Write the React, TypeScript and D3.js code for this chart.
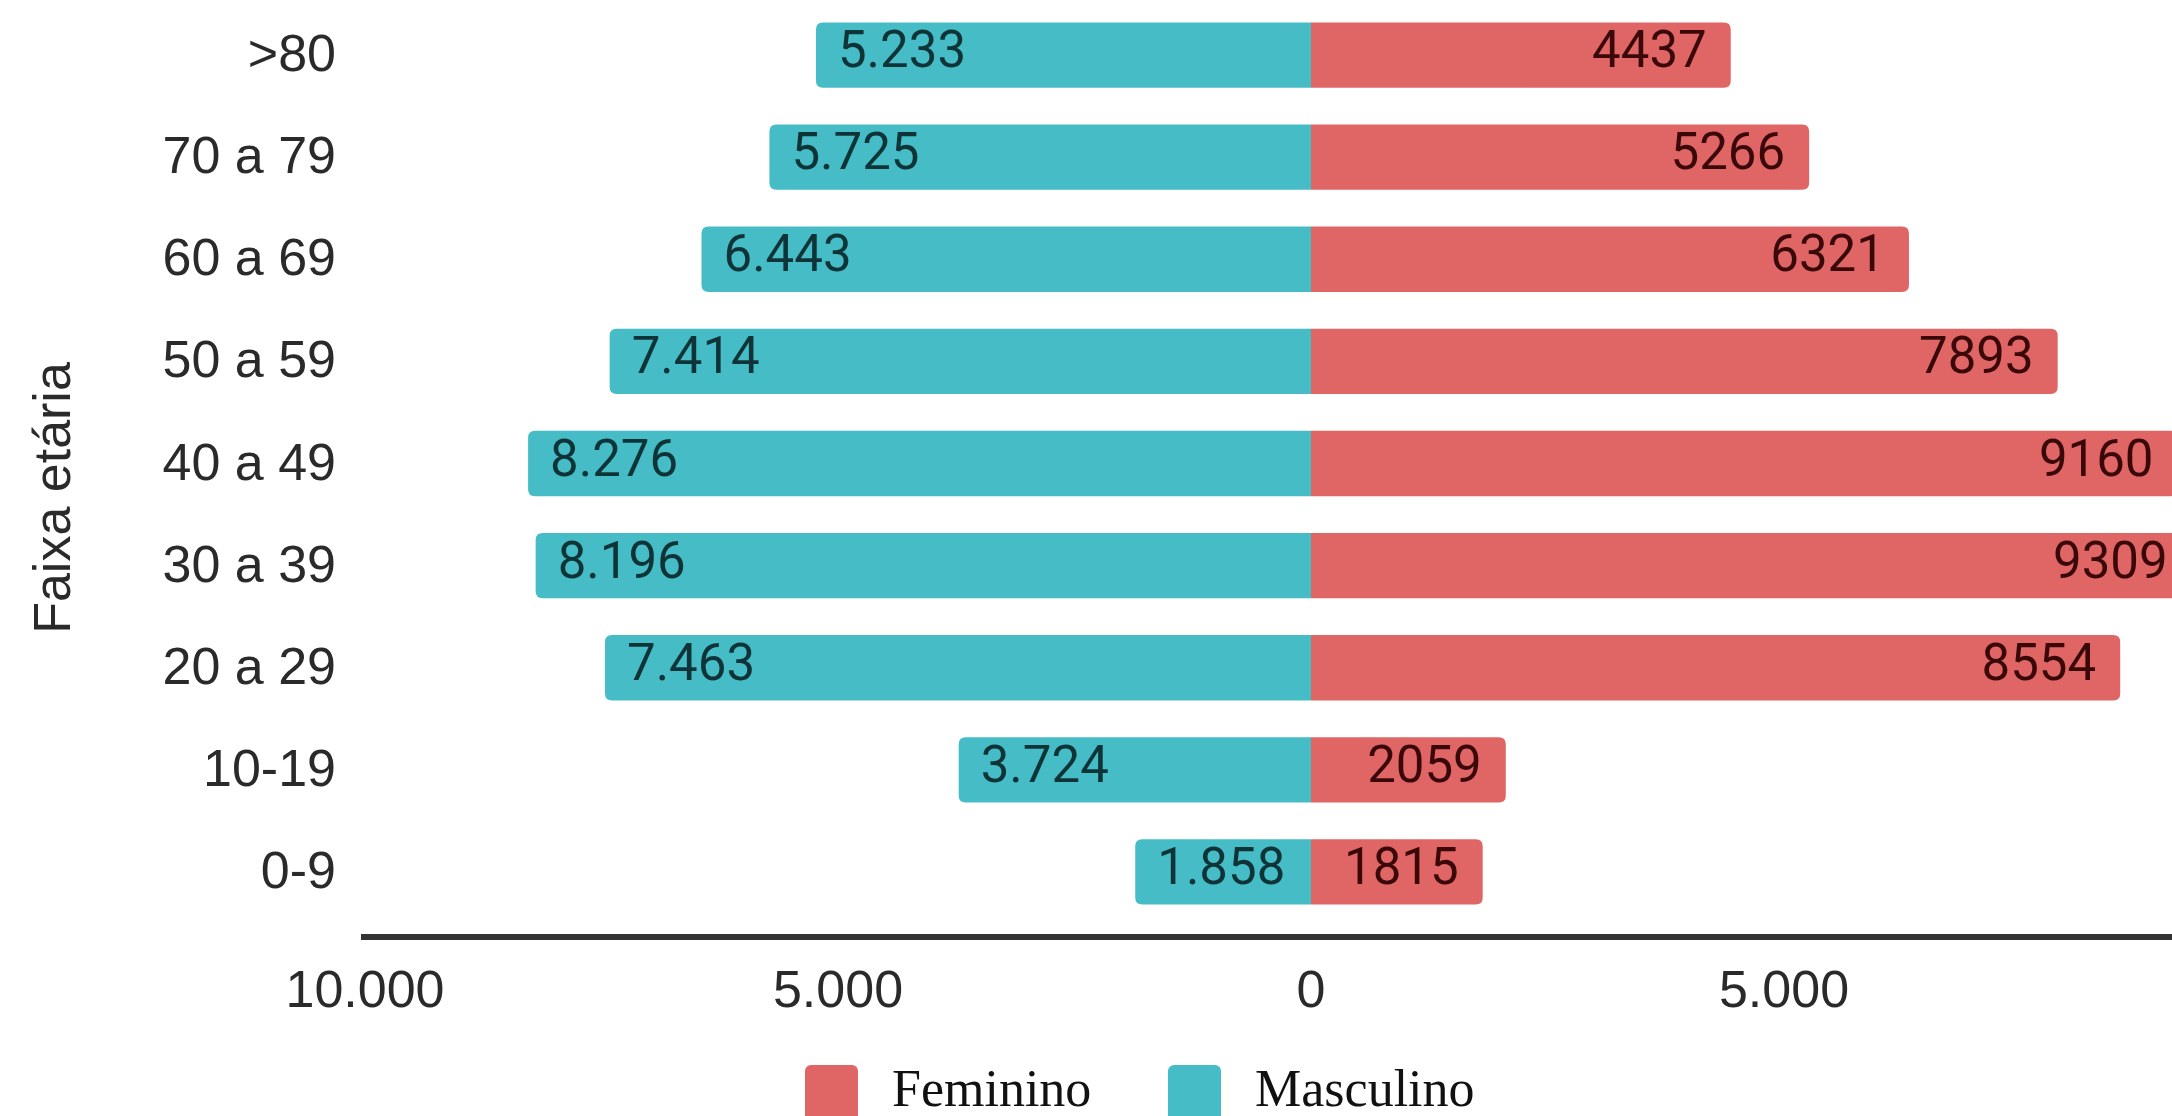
import React from "react";
import * as d3 from "d3";

const ageGroups = [">80", "70 a 79", "60 a 69", "50 a 59", "40 a 49", "30 a 39", "20 a 29", "10-19", "0-9"];
const masculino = [5233, 5725, 6443, 7414, 8276, 8196, 7463, 3724, 1858];
const feminino = [4437, 5266, 6321, 7893, 9160, 9309, 8554, 2059, 1815];
const xTicks = [-10000, -5000, 0, 5000];
const legendItems = ["Feminino", "Masculino"];

const W = 2172;
const H = 1116;
const TEAL = "#46BDC6";
const RED = "#E06666";

const ptLocale = d3.formatLocale({ decimal: ",", thousands: ".", grouping: [3], currency: ["R$", ""] });
const fmtMale = ptLocale.format(",d");
const fmtFemale = d3.format("d");

function roundedBar(x0: number, x1: number, y: number, h: number, r: number, side: "left" | "right") {
  const rr = Math.min(r, Math.abs(x1 - x0), h / 2);
  if (side === "left") {
    // rounded on left (x0 < x1)
    return `M${x1},${y}H${x0 + rr}Q${x0},${y} ${x0},${y + rr}V${y + h - rr}Q${x0},${y + h} ${x0 + rr},${y + h}H${x1}Z`;
  }
  return `M${x0},${y}H${x1 - rr}Q${x1},${y} ${x1},${y + rr}V${y + h - rr}Q${x1},${y + h} ${x1 - rr},${y + h}H${x0}Z`;
}

export default function App() {
  const x = d3.scaleLinear().domain([-10000, 10000]).range([365, 2257]);
  const y = d3.scaleBand<string>().domain(ageGroups).range([2, 925]).paddingInner(0.36).paddingOuter(0.2);
  const bw = y.bandwidth();
  const axisY = 937;
  const sans = "'Liberation Sans', Arial, sans-serif";
  const roboto = "Roboto, 'Liberation Sans', sans-serif";
  const serif = "'Liberation Serif', 'Times New Roman', serif";

  const legendX = [805, 1168];
  const legendColors = [RED, TEAL];

  return (
    <svg width={W} height={H} style={{ position: "absolute", left: 0, top: 0, background: "#fff" }}>
      <defs>
        <clipPath id="plotClip">
          <rect x={0} y={0} width={W} height={H} />
        </clipPath>
      </defs>
      <g clipPath="url(#plotClip)">
        {ageGroups.map((g, i) => {
          const top = y(g) as number;
          const cy = top + bw / 2;
          const x0 = x(0);
          const xm = x(-masculino[i]);
          const xf = x(feminino[i]);
          return (
            <g key={g}>
              <path d={roundedBar(xm, x0, top, bw, 7, "left")} fill={TEAL} />
              <path d={roundedBar(x0, xf, top, bw, 7, "right")} fill={RED} />
              <text x={xm + 22} y={cy + 12} fontFamily={roboto} fontSize={51} fill="#0f3438">
                {fmtMale(masculino[i])}
              </text>
              <text x={xf - 24} y={cy + 12} fontFamily={roboto} fontSize={51} fill="#3a0808" textAnchor="end">
                {fmtFemale(feminino[i])}
              </text>
              <text x={336} y={cy + 16} fontFamily={sans} fontSize={52} fill="#2a2a2a" textAnchor="end">
                {g}
              </text>
            </g>
          );
        })}
      </g>
      <line x1={361} x2={W} y1={axisY} y2={axisY} stroke="#333" strokeWidth={6} />
      {xTicks.map((t) => (
        <text key={t} x={x(t)} y={1007} fontFamily={sans} fontSize={52} fill="#2a2a2a" textAnchor="middle">
          {ptLocale.format(",d")(Math.abs(t))}
        </text>
      ))}
      <text
        transform={`translate(70,${498}) rotate(-90)`}
        fontFamily={sans}
        fontSize={52}
        fill="#2a2a2a"
        textAnchor="middle"
      >
        Faixa etária
      </text>
      {legendItems.map((name, i) => (
        <g key={name}>
          <rect x={legendX[i]} y={1065} width={53} height={58} rx={6} fill={legendColors[i]} />
          <text x={legendX[i] + 87} y={1106} fontFamily={serif} fontSize={52} fill="#111">
            {name}
          </text>
        </g>
      ))}
    </svg>
  );
}
